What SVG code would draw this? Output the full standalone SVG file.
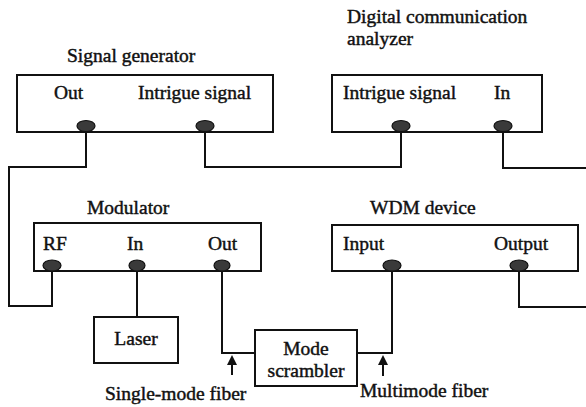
<svg xmlns="http://www.w3.org/2000/svg" width="586" height="407" viewBox="0 0 586 407">
<style>
text{font-family:"Liberation Serif","Times New Roman",serif;font-size:19.5px;fill:#111;stroke:#111;stroke-width:0.45}
.box{fill:#fff;stroke:#111;stroke-width:2}
.port{fill:#3a3a3a;stroke:#111;stroke-width:1.2}
.wire{fill:none;stroke:#111;stroke-width:2}
.head{fill:#111;stroke:none}
.c{text-anchor:middle}
</style>
<defs>
<path id="ah" class="head" d="M0,0 L5,10 L-5,10 Z"/>
</defs>
<g id="connectors">
<path class="wire" d="M86,131 V167 H9 V306 H52 V271"/>
<path class="wire" d="M205,131 V167 H401 V131"/>
<path class="wire" d="M503,131 V168 H586"/>
<path class="wire" d="M137,271 V317"/>
<path class="wire" d="M222,271 V353 H255"/>
<path class="wire" d="M357,353 H392 V271"/>
<path class="wire" d="M519,271 V307 H586"/>
<line class="wire" x1="232" y1="375" x2="232" y2="362"/>
<use href="#ah" x="232" y="355"/>
<line class="wire" x1="383" y1="376" x2="383" y2="362"/>
<use href="#ah" x="383" y="355"/>
</g>
<g id="signal-generator">
<text x="67" y="62">Signal generator</text>
<rect class="box" x="17" y="75" width="256" height="57"/>
<text x="54" y="99">Out</text>
<text x="138" y="99">Intrigue signal</text>
<ellipse class="port" cx="86" cy="126" rx="9" ry="5.5"/>
<ellipse class="port" cx="205" cy="126" rx="9" ry="5.5"/>
</g>
<g id="dca">
<text x="347" y="23">Digital communication</text>
<text x="347" y="45">analyzer</text>
<rect class="box" x="332" y="75" width="210" height="57"/>
<text x="343" y="99">Intrigue signal</text>
<text x="494" y="99">In</text>
<ellipse class="port" cx="401" cy="126" rx="9" ry="5.5"/>
<ellipse class="port" cx="503" cy="126" rx="9" ry="5.5"/>
</g>
<g id="modulator">
<text x="87" y="214">Modulator</text>
<rect class="box" x="34" y="223" width="227" height="48"/>
<text x="43" y="250">RF</text>
<text x="127" y="250">In</text>
<text x="208" y="250">Out</text>
<ellipse class="port" cx="52" cy="265.5" rx="9" ry="5.5"/>
<ellipse class="port" cx="137" cy="265.5" rx="8" ry="5.5"/>
<ellipse class="port" cx="222" cy="265.5" rx="8" ry="5.5"/>
</g>
<g id="wdm">
<text x="370" y="214">WDM device</text>
<rect class="box" x="332" y="225" width="246" height="46"/>
<text x="343" y="250">Input</text>
<text x="494" y="250">Output</text>
<ellipse class="port" cx="392" cy="265.5" rx="9" ry="5.5"/>
<ellipse class="port" cx="519" cy="265.5" rx="9" ry="5.5"/>
</g>
<g id="laser">
<rect class="box" x="94" y="317" width="84" height="46"/>
<text class="c" x="136" y="345">Laser</text>
</g>
<g id="mode-scrambler">
<rect class="box" x="255" y="330" width="102" height="56"/>
<text class="c" x="306" y="355">Mode</text>
<text class="c" x="306" y="377">scrambler</text>
</g>
<g id="labels">
<text x="105" y="400">Single-mode fiber</text>
<text x="360" y="397">Multimode fiber</text>
</g>
</svg>
